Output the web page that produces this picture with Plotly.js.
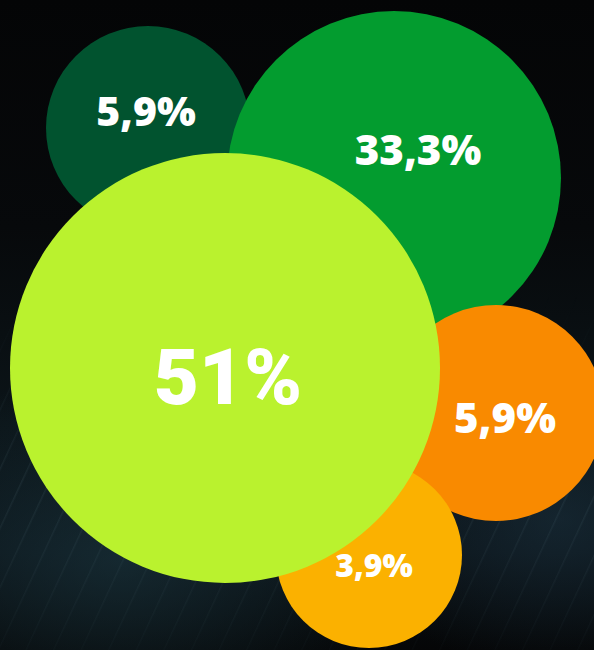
<!DOCTYPE html>
<html>
<head>
<meta charset="utf-8">
<script src="https://cdn.plot.ly/plotly-3.0.1.min.js"></script>
<style>
  html, body { margin: 0; padding: 0; width: 594px; height: 650px; overflow: hidden; }
  body {
    position: relative;
    background:
      radial-gradient(ellipse 420px 260px at 120px 560px, rgba(30,60,70,0.55), rgba(0,0,0,0) 70%),
      radial-gradient(ellipse 300px 220px at 560px 520px, rgba(30,55,70,0.5), rgba(0,0,0,0) 70%),
      linear-gradient(180deg, #040506 0%, #07090b 35%, #0b1418 65%, #0a1116 85%, #050607 100%);
  }
  body::before {
    content: ""; position: absolute; left: 0; top: 0; width: 594px; height: 650px;
    background:
      repeating-linear-gradient(115deg, rgba(140,180,190,0) 0px, rgba(140,180,190,0) 22px, rgba(140,180,190,0.09) 23px, rgba(140,180,190,0) 25px);
    -webkit-mask-image: linear-gradient(180deg, rgba(0,0,0,0) 0%, rgba(0,0,0,0) 45%, rgba(0,0,0,1) 75%, rgba(0,0,0,0.3) 100%);
    mask-image: linear-gradient(180deg, rgba(0,0,0,0) 0%, rgba(0,0,0,0) 45%, rgba(0,0,0,1) 75%, rgba(0,0,0,0.3) 100%);
  }
  #chart { position: relative; width: 594px; height: 650px; }
</style>
</head>
<body>
<div id="chart"></div>
<script>
// Data
var labels = ["5,9%", "33,3%", "5,9%", "3,9%", "51%"];
var values = [5.9, 33.3, 5.9, 3.9, 51];
var colors = ["#01532F", "#039C2F", "#F98A00", "#FBB100", "#BAF22E"];
// packed layout centres (plot units = px)
var bubbleX = [148, 394, 496, 369, 225];
var bubbleY = [128, 178, 413, 555, 368];
var labelX = [146, 418, 505, 374, 228];
var labelY = [116, 154, 422, 569, 384];
var labelSizes = [41, 42, 42, 32, 78];

// radius scale (linear by value)
var minR = 93, maxR = 215;
var vMin = Math.min.apply(null, values), vMax = Math.max.apply(null, values);
var diam = values.map(function (v) { return 2 * (minR + (v - vMin) / (vMax - vMin) * (maxR - minR)); });
// small adjustments
diam[0] = 204; diam[2] = 216; diam[1] = 334;

var traces = [];
for (var i = 0; i < values.length; i++) {
  traces.push({
    type: "scatter", mode: "markers",
    x: [bubbleX[i]], y: [bubbleY[i]],
    marker: { size: diam[i], color: colors[i], opacity: 1, line: { width: 0 } },
    hoverinfo: "skip", cliponaxis: false
  });
}
for (var j = 0; j < values.length; j++) {
  traces.push({
    type: "scatter", mode: "text",
    x: [labelX[j]], y: [labelY[j]],
    text: [labels[j]], textposition: "middle center",
    textfont: j === 4
      ? { family: "Roboto, sans-serif", size: labelSizes[j], color: "#ffffff", weight: 900 }
      : { family: "Open Sans, sans-serif", size: labelSizes[j], color: "#ffffff", weight: 800 },
    hoverinfo: "skip", cliponaxis: false
  });
}

var layout = {
  width: 594, height: 650,
  margin: { l: 0, r: 0, t: 0, b: 0 },
  paper_bgcolor: "rgba(0,0,0,0)", plot_bgcolor: "rgba(0,0,0,0)",
  showlegend: false,
  xaxis: { range: [0, 594], visible: false, fixedrange: true },
  yaxis: { range: [650, 0], visible: false, fixedrange: true }
};
Plotly.newPlot("chart", traces, layout, { displayModeBar: false, staticPlot: true });
</script>
</body>
</html>
